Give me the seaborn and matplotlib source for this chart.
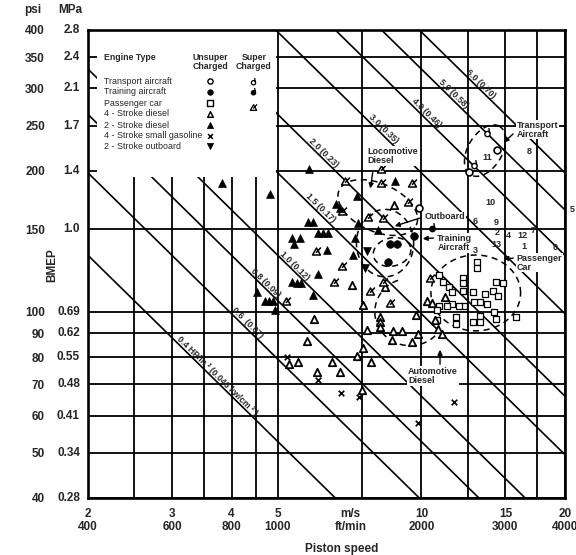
"""BMEP vs. piston speed for several engine types, with constant piston-power lines."""

import matplotlib

matplotlib.use("Agg")
import matplotlib.pyplot as plt
import numpy as np
import pandas as pd
import seaborn as sns
from matplotlib.patches import Rectangle
from matplotlib.path import Path
from matplotlib.ticker import NullLocator

sns.set_theme(style="white")
plt.rcParams["font.family"] = ["Liberation Sans", "DejaVu Sans"]

# ---- data (piston speed m/s, BMEP psi) ----
TRANSPORT_V = [12.6, 14.4, 9.9]
TRANSPORT_P = [199, 222, 167]
TRANSPORT_SC_V = [13.7, 12.9]
TRANSPORT_SC_P = [242, 207]
TRAINING_V = [9.65, 8.6, 8.9, 8.5]
TRAINING_P = [145, 139.5, 139.5, 128]
TRAINING_SC_V = [10.5]
TRAINING_SC_P = [152]
CAR_V = [13.1, 13.1, 10.9, 11.1, 11.4, 11.6, 12.2, 12.2, 12.2, 12.8, 13.6, 14.1, 14.3, 14.8,
         14.5, 13.7, 13.3, 12.9, 12.3, 12.0, 11.6, 11.3, 10.9, 10.8, 13.3, 12.8, 13.3, 14.3,
         14.2, 11.8, 11.8, 10.8, 15.8]
CAR_P = [128, 124, 120, 116, 113, 110, 118, 115, 111, 110, 109, 111, 116, 115, 108, 104, 105,
         105, 103, 103, 104, 103, 103, 101, 98, 95, 95, 96.5, 100, 97.5, 94, 96, 97.5]
DIESEL4_V = [8.76, 7.15, 8.39, 10.27, 10.52, 11.21, 7.54, 8.19, 8.19, 8.19, 9.74, 10.68, 10.83,
             7.69, 8.72, 9.11, 9.84, 8.68, 9.56, 11.05, 5.95, 5.76, 5.28, 5.51, 6.04, 6.49, 6.75,
             7.33, 7.54, 7.84, 7.51]
DIESEL4_P = [169, 114, 113, 105.4, 104.4, 107.6, 103.4, 97.4, 95, 92.8, 98.4, 96, 91.8, 91.4, 91,
             91, 89.6, 87, 86.2, 89.6, 96.5, 86.6, 77.3, 78.1, 74.4, 78, 74.4, 80.4, 83.7, 78.1, 68]
DIESEL4_SC_V = [8.23, 8.23, 9.56, 6.91, 6.82, 8.31, 9.37, 6.01, 6.82, 6.56, 7.80, 8.31, 8.59,
                5.20, 10.42, 7.73]
DIESEL4_SC_P = [202, 188, 188, 190, 164, 158.6, 172, 135, 125, 116, 110.7, 116, 104.4, 105.4,
                118, 159.4]
DIESEL2_V = [3.82, 4.81, 5.81, 7.33, 8.80, 6.62, 6.75, 7.36, 5.78, 5.93, 6.07, 6.22, 6.37, 7.26,
             5.35, 5.56, 5.41, 6.34, 7.19, 8.11, 6.07, 5.35, 5.49, 5.59, 5.93, 4.52, 4.70, 4.79,
             4.89, 4.93]
DIESEL2_P = [188, 178.5, 202, 177, 190, 170, 167, 155, 155.5, 155.5, 147, 147, 147, 144, 144, 144,
             139.6, 135.5, 132, 149.5, 120.4, 116, 115, 115, 108.6, 110, 105.4, 105.4, 105.4, 100.8]
GAS4_V = [5.23, 6.07, 6.78, 7.40, 11.70, 9.84]
GAS4_P = [80, 71.5, 67, 65.8, 64.2, 57.8]
OUTBOARD_V = [7.7, 7.6]
OUTBOARD_P = [135, 124]

# constant piston power lines, HP/in^2 (kW/cm^2)
POWER_HP = [0.4, 0.6, 0.8, 1.0, 1.5, 2.0, 3.0, 4.0, 5.0, 6.0]
POWER_KW = ["0.046", "0.07", "0.09", "0.12", "0.17", "0.23", "0.35", "0.46", "0.58", "0.70"]
POWER_LABEL_V = [3.68, 4.25, 4.65, 5.35, 6.05, 6.15, 8.2, 10.1, 11.5, 13.1]

# numbered engines near the car / aircraft groups
NUM_TEXT = ["10", "6", "9", "2", "4", "12", "7", "13", "1", "0", "3", "11", "8"]
NUM_V = [13.93, 12.95, 14.34, 14.40, 15.19, 16.25, 17.14, 14.40, 16.41, 19.06, 13.0, 13.73, 16.82]
NUM_P = [171.6, 155.7, 154.8, 147.4, 145.2, 145.2, 149.5, 138.9, 138.2, 137.5, 135.5, 214, 220.5]

GRID_V = [2, 2.5, 3, 3.5, 4, 4.5, 5, 7.5, 10, 12.5, 15, 17.5, 20]
GRID_P = [40, 50, 60, 70, 80, 90, 100, 150, 200, 250, 300, 350, 400]
XTICKS = [2, 3, 4, 5, 7.1, 10, 15, 20]
XTICK_LABELS = ["2\n400", "3\n600", "4\n800", "5\n1000", "m/s\nft/min", "10\n2000", "15\n3000",
                "20\n4000"]
YTICKS = [40, 50, 60, 70, 80, 90, 100, 150, 200, 250, 300, 350, 400]
MPA_LABELS = ["0.28", "0.34", "0.41", "0.48", "0.55", "0.62", "0.69", "1.0", "1.4", "1.7", "2.1",
              "2.4", "2.8"]

# HP/in^2 = psi * ft/min / (4 * 33000) for a 4-stroke; ft/min = 200 * m/s
K_POWER = 132000 / 200

# ---- custom markers ----
D_MARK = Path.make_compound_path(Path.circle((0, -0.35), 0.6), Path([(0.5, -0.05), (0.3, 1.0)]))
K_MARK = Path.make_compound_path(
    Path([(-0.9, -0.8), (0, 0.8), (0.9, -0.8), (-0.9, -0.8)], closed=True),
    Path([(-0.1, -0.3), (1.0, 0.9)]),
)

fig = plt.figure(figsize=(5.76, 5.55), dpi=100)
ax = fig.add_axes([88 / 576, 57 / 555, 477 / 576, 468 / 555])
ax.set_xscale("log")
ax.set_yscale("log")

for v in GRID_V:
    ax.axvline(v, color="black", lw=1.3, zorder=1)
for p in GRID_P:
    ax.axhline(p, color="black", lw=1.3, zorder=1)

v_end = np.array([2.0, 20.0])
for hp, kw, lv in zip(POWER_HP, POWER_KW, POWER_LABEL_V):
    ax.plot(v_end, K_POWER * hp / v_end, color="black", lw=1.2, zorder=1)
    if hp == 0.4:
        txt = f"{hp:.1f} HP/in ² ({kw} kw/cm ² )"
    elif hp == 0.6:
        txt = f"{hp:.1f}  ({kw})"
    else:
        txt = f"{hp:.1f} ({kw})"
    ax.text(lv, K_POWER * hp / lv, txt, rotation=-44.5, rotation_mode="anchor", ha="center",
            va="bottom", fontsize=6.3, fontweight="bold", zorder=2)

# blank area holding the key
ax.add_patch(Rectangle((0.019, 0.686), 0.376, 0.32, transform=ax.transAxes, facecolor="white",
                       edgecolor="none", zorder=2.2))


def scatter(v, p, **kw):
    df = pd.DataFrame({"v": v, "p": p})
    sns.scatterplot(data=df, x="v", y="p", ax=ax, legend=False, zorder=3, **kw)


open_kw = dict(color="white", edgecolor="black")
scatter(CAR_V, CAR_P, marker="s", s=20, linewidth=0.9, **open_kw)
scatter(DIESEL4_V, DIESEL4_P, marker="^", s=28, linewidth=1.3, **open_kw)
scatter(DIESEL4_SC_V, DIESEL4_SC_P, marker=K_MARK, s=40, linewidth=1.1, **open_kw)
scatter(DIESEL2_V, DIESEL2_P, marker="^", s=32, color="black", edgecolor="black", linewidth=0.5)
scatter(GAS4_V, GAS4_P, marker="x", s=16, color="black", linewidth=1.2)
scatter(OUTBOARD_V, OUTBOARD_P, marker="v", s=32, color="black", edgecolor="black", linewidth=0.5)
scatter(TRAINING_V, TRAINING_P, marker="o", s=30, color="black", edgecolor="black", linewidth=0.5)
scatter(TRAINING_SC_V, TRAINING_SC_P, marker=D_MARK, s=40, color="black", edgecolor="black",
        linewidth=1.0)
scatter(TRANSPORT_V, TRANSPORT_P, marker="o", s=24, linewidth=1.2, **open_kw)
scatter(TRANSPORT_SC_V, TRANSPORT_SC_P, marker=D_MARK, s=40, linewidth=1.0, **open_kw)


# dashed group outlines (ellipses in log-log space)
def loop(v0, p0, a, b, ang, t0=0, t1=360):
    t = np.radians(np.linspace(t0, t1, 120))
    th = np.radians(ang)
    dx, dy = a * np.cos(t), b * np.sin(t)
    lx = np.log10(v0) + dx * np.cos(th) - dy * np.sin(th)
    ly = np.log10(p0) + dx * np.sin(th) + dy * np.cos(th)
    ax.plot(10 ** lx, 10 ** ly, color="black", lw=1.1, ls=(0, (4, 3)), zorder=2.5)


loop(13.6, 221, 0.060, 0.036, 60)
loop(8.1, 167, 0.089, 0.051, -25)
loop(8.39, 140.2, 0.060, 0.072, 0)
loop(8.68, 134.2, 0.040, 0.030, 15)
loop(13.0, 109.7, 0.094, 0.081, 0)
loop(9.47, 99.9, 0.074, 0.072, 0, 110, 315)

# group labels with arrows
bold = dict(fontsize=6.5, fontweight="bold", zorder=4, linespacing=1.0)
box = dict(facecolor="white", edgecolor="none", pad=0.6)
ax.text(7.69, 215, "Locomotive\nDiesel", ha="left", va="center", bbox=box, **bold)
ax.text(10.14, 159.4, "Outboard", ha="left", va="center", bbox=box, **bold)
ax.text(10.8, 140.2, "Training\nAircraft", ha="left", va="center", bbox=box, **bold)
ax.text(15.85, 245, "Transport\nAircraft", ha="left", va="center", bbox=box, **bold)
ax.text(15.85, 127.4, "Passenger\nCar", ha="left", va="center", bbox=box, **bold)
ax.text(9.38, 72.9, "Automotive\nDiesel", ha="left", va="center", bbox=box, **bold)
arrow = dict(arrowstyle="-|>", color="black", lw=1.0, mutation_scale=7)
for (v0, p0), (v1, p1) in [((7.92, 201), (7.80, 181)), ((10.09, 159.4), (8.68, 151.8)),
                           ((10.74, 143.8), (9.93, 143.2)), ((15.72, 242), (14.73, 228)),
                           ((15.79, 130.3), (14.66, 129.6)), ((10.94, 76.2), (10.94, 84.1))]:
    ax.annotate("", xy=(v1, p1), xytext=(v0, p0), arrowprops=arrow, zorder=4)

for t, v, p in zip(NUM_TEXT, NUM_V, NUM_P):
    ax.text(v, p, t, ha="center", va="center", fontsize=6.5, fontweight="bold", zorder=4.5)
fig.text(572 / 576, 1 - 210 / 555, "5", fontsize=6.5, fontweight="bold", ha="center", va="center")

# key
kx = 0.033
ax.text(kx, 0.942, "Engine Type", transform=ax.transAxes, fontsize=6.3, fontweight="bold",
        va="center", zorder=4)
ax.text(0.257, 0.932, "Unsuper\nCharged", transform=ax.transAxes, fontsize=6.3,
        fontweight="bold", ha="center", va="center", linespacing=1.0, zorder=4)
ax.text(0.348, 0.932, "Super\nCharged", transform=ax.transAxes, fontsize=6.3, fontweight="bold",
        ha="center", va="center", linespacing=1.0, zorder=4)
rows = ["Transport aircraft", "Training aircraft", "Passenger car", "4 - Stroke diesel",
        "2 - Stroke diesel", "4 - Stroke small gasoline", "2 - Stroke outboard"]
row_y = [0.891, 0.868, 0.844, 0.821, 0.797, 0.774, 0.752]
for name, y in zip(rows, row_y):
    ax.text(kx, y, name, transform=ax.transAxes, fontsize=6.4, va="center", zorder=4)
key_marks = [
    (0.256, row_y[0], "o", dict(facecolor="white", edgecolor="black", s=14, lw=1.0)),
    (0.256, row_y[1], "o", dict(facecolor="black", edgecolor="black", s=16, lw=0.5)),
    (0.256, row_y[2], "s", dict(facecolor="white", edgecolor="black", s=14, lw=1.0)),
    (0.256, row_y[3], "^", dict(facecolor="white", edgecolor="black", s=16, lw=1.1)),
    (0.256, row_y[4], "^", dict(facecolor="black", edgecolor="black", s=20, lw=0.5)),
    (0.256, row_y[5], "x", dict(color="black", s=12, lw=1.1)),
    (0.256, row_y[6], "v", dict(facecolor="black", edgecolor="black", s=20, lw=0.5)),
    (0.346, row_y[0], D_MARK, dict(facecolor="white", edgecolor="black", s=26, lw=0.9)),
    (0.346, 0.870, D_MARK, dict(facecolor="black", edgecolor="black", s=26, lw=0.9)),
    (0.346, 0.835, K_MARK, dict(facecolor="white", edgecolor="black", s=26, lw=0.9)),
]
for x, y, m, kw in key_marks:
    ax.scatter([x], [y], marker=m, transform=ax.transAxes, zorder=4, clip_on=False, **kw)

# axes, ticks and labels
ax.set_xlim(2, 20)
ax.set_ylim(40, 400)
ax.xaxis.set_minor_locator(NullLocator())
ax.yaxis.set_minor_locator(NullLocator())
ax.set_xticks(XTICKS)
ax.set_xticklabels(XTICK_LABELS, fontsize=8.5, fontweight="bold", linespacing=1.15)
ax.set_yticks(YTICKS)
ax.set_yticklabels([str(v) for v in YTICKS], fontsize=8.5, fontweight="bold")
ax.tick_params(axis="x", length=0, pad=7)
ax.tick_params(axis="y", length=0, pad=31)
ytrans = ax.get_yaxis_transform()
for p, lab in zip(YTICKS, MPA_LABELS):
    ax.text(-0.017, p, lab, transform=ytrans, ha="right", va="center", fontsize=8.5,
            fontweight="bold")
for s in ax.spines.values():
    s.set_color("black")
    s.set_linewidth(1.9)
    s.set_zorder(5)
ax.set_xlabel("")
ax.set_ylabel("")
fig.text(33 / 576, 1 - 10 / 555, "psi", ha="center", va="center", fontsize=8.5, fontweight="bold")
fig.text(70 / 576, 1 - 10 / 555, "MPa", ha="center", va="center", fontsize=8.5, fontweight="bold")
fig.text(52 / 576, 1 - 265 / 555, "BMEP", rotation=90, ha="center", va="center", fontsize=8.5,
         fontweight="bold")
fig.text(342 / 576, 1 - 549 / 555, "Piston speed", ha="center", va="center", fontsize=8.5,
         fontweight="bold")

fig.savefig("out.png", dpi=100)
